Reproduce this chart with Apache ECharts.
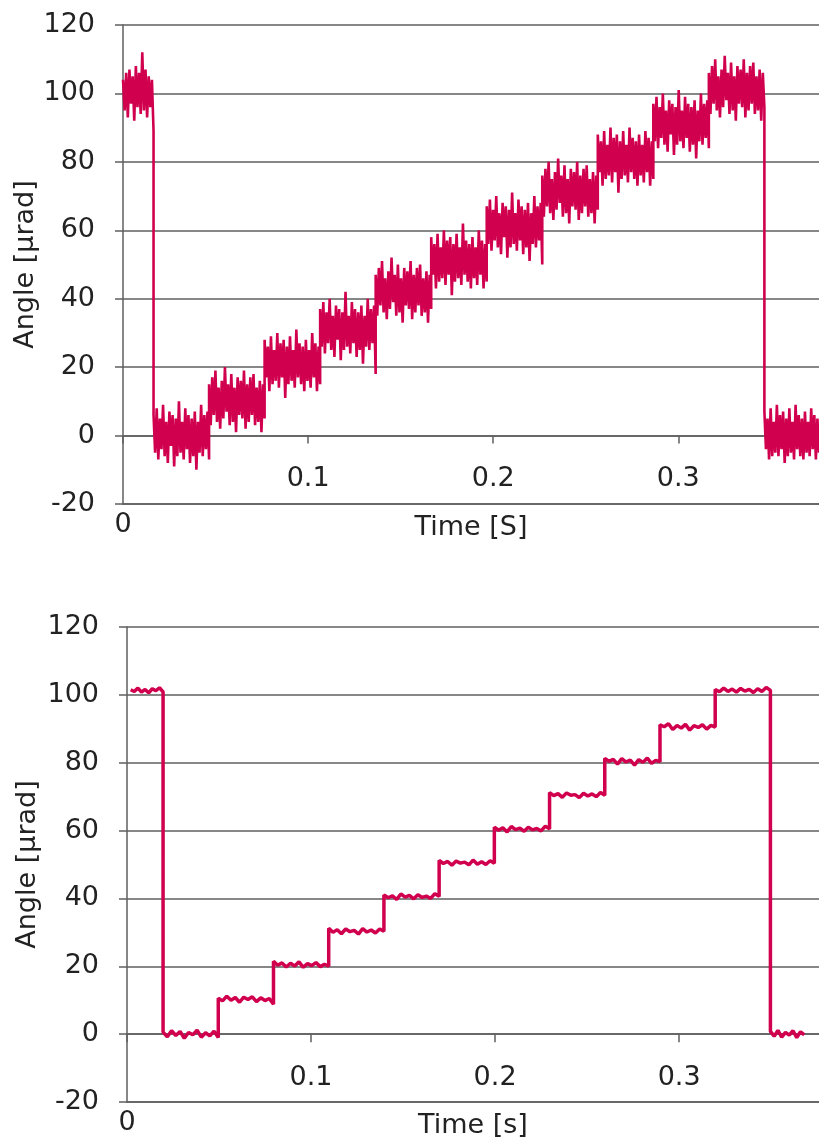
<!DOCTYPE html>
<html lang="en">
<head>
    <meta charset="UTF-8">
    <title>Angle steps</title>
    <script src="https://cdn.jsdelivr.net/npm/echarts@6/dist/echarts.min.js"></script>
    <style>
        html, body { margin: 0; padding: 0; background: #fff; }
    </style>
</head>
<body>
    <div id="main" style="width: 819px;height:1142px;"></div>
    <script>
        var chartDom = document.getElementById('main');
        var myChart = echarts.init(chartDom);

        // y axis ticks (both panels)
        const yTicks = [-20, 0, 20, 40, 60, 80, 100, 120];
        const xTickLabels = ['0', '0.1', '0.2', '0.3'];

        // upper panel: segment boundaries [s] and readings [µrad] in each segment
        const topBounds = [0, 0.0165, 0.0465, 0.0765, 0.1065, 0.1365, 0.1665, 0.1965, 0.2265, 0.2565, 0.2865, 0.3165, 0.3465, 0.376];
        const topSegments = [
            [104, 95, 106, 93, 107, 97, 105, 92, 108, 96, 106, 94, 112, 95, 107, 93, 105, 96, 104, 89],
            [6, -5, 8, -7, 5, -4, 9, -6, 4, -8, 7, -3, 6, -9, 5, -6, 10, -5, 4, -7, 8, -4, 6, -8, 5, -6, 7, -10, 4, -5, 9, -6, 6, -4, 7, -7],
            [15, 3, 17, 6, 19, 4, 14, 2, 16, 5, 20, 7, 15, 3, 18, 4, 14, 1, 17, 6, 16, 5, 19, 2, 15, 4, 17, 6, 18, 3, 14, 4, 16, 1, 15, 5],
            [28, 17, 26, 13, 29, 15, 25, 16, 30, 14, 27, 17, 28, 11, 26, 15, 29, 16, 25, 14, 31, 17, 27, 15, 26, 13, 28, 16, 25, 14, 30, 17, 27, 13, 26, 15],
            [37, 26, 39, 24, 36, 27, 40, 25, 35, 23, 38, 28, 37, 22, 36, 25, 42, 26, 35, 24, 39, 27, 37, 23, 36, 25, 38, 21, 35, 26, 40, 25, 37, 27, 38, 18],
            [47, 35, 49, 38, 51, 36, 46, 34, 48, 37, 52, 39, 47, 35, 50, 36, 46, 33, 49, 38, 48, 37, 51, 34, 47, 36, 49, 38, 50, 35, 46, 36, 48, 33, 47, 37],
            [58, 47, 56, 43, 59, 45, 55, 46, 60, 44, 57, 47, 58, 41, 56, 45, 59, 46, 55, 44, 62, 47, 57, 45, 56, 43, 58, 46, 55, 44, 60, 47, 57, 43, 56, 45],
            [67, 56, 69, 54, 66, 57, 70, 55, 65, 53, 68, 58, 67, 52, 66, 55, 71, 56, 65, 54, 69, 57, 67, 53, 66, 55, 68, 51, 65, 56, 70, 55, 67, 57, 68, 50],
            [76, 64, 78, 67, 80, 65, 75, 63, 77, 66, 81, 68, 76, 64, 79, 65, 75, 62, 78, 67, 77, 66, 80, 63, 76, 65, 78, 67, 79, 64, 75, 65, 77, 62, 76, 66],
            [88, 77, 86, 73, 89, 75, 85, 76, 90, 74, 87, 77, 88, 71, 86, 75, 89, 76, 85, 74, 90, 77, 87, 75, 86, 73, 88, 76, 85, 74, 89, 77, 87, 73, 86, 75],
            [97, 86, 99, 84, 96, 87, 100, 85, 95, 83, 98, 88, 97, 82, 96, 85, 101, 86, 95, 84, 99, 87, 97, 83, 96, 85, 98, 81, 95, 86, 100, 85, 97, 87, 98, 84],
            [106, 94, 108, 97, 110, 95, 105, 93, 107, 96, 111, 98, 106, 94, 109, 95, 105, 92, 108, 97, 107, 96, 110, 93, 106, 95, 108, 97, 109, 94, 105, 95, 107, 92, 106, 96],
            [7, -4, 5, -7, 8, -6, 4, -5, 9, -6, 6, -4, 7, -8, 5, -6, 8, -5, 4, -7, 9, -4, 6, -6, 5, -7, 7, -5, 4, -6, 8, -4, 6, -7, 5, -5]
        ];

        // lower panel
        const botBounds = [0.002, 0.0196, 0.0496, 0.0796, 0.1096, 0.1396, 0.1696, 0.1996, 0.2296, 0.2596, 0.2896, 0.3196, 0.3496, 0.368];
        const botSegments = [
            [101.5, 101.0, 102.0, 100.8, 101.6, 100.6, 101.8, 101.2, 102.1, 100.9],
            [0.6, -0.8, 1.0, -0.4, 0.8, -1.2, 0.5, -0.2, 1.2, -0.9, 0.4, -0.5, 0.9, -1.0],
            [10.6, 9.8, 11.2, 10.0, 10.8, 9.4, 10.9, 10.2, 11.0, 9.6, 10.7, 9.9, 10.5, 8.8],
            [21.5, 20.3, 21.0, 19.8, 20.9, 20.1, 21.3, 19.7, 20.8, 20.2, 21.1, 19.9, 20.6, 20.0],
            [31.2, 30.0, 30.8, 29.6, 31.0, 30.2, 30.6, 29.5, 31.1, 30.1, 30.7, 29.8, 31.0, 30.3],
            [41.0, 40.2, 40.8, 39.7, 41.3, 40.4, 40.9, 39.9, 41.1, 40.3, 40.7, 40.0, 41.4, 40.6],
            [51.2, 50.3, 50.9, 49.8, 51.0, 50.4, 50.7, 49.9, 51.3, 50.1, 50.8, 50.0, 51.1, 50.4],
            [61.0, 60.1, 60.8, 59.6, 61.2, 60.3, 60.7, 59.8, 61.0, 60.2, 60.6, 59.9, 61.3, 60.5],
            [71.2, 70.3, 70.9, 69.8, 71.1, 70.4, 70.6, 69.7, 71.0, 70.2, 70.8, 70.0, 71.2, 70.4],
            [81.3, 80.4, 81.0, 79.6, 81.2, 80.2, 80.8, 79.3, 80.9, 80.1, 81.4, 79.8, 80.7, 80.3],
            [91.2, 90.6, 91.5, 89.8, 91.0, 90.2, 91.3, 89.6, 90.9, 90.4, 91.2, 89.9, 91.0, 90.5],
            [101.6, 100.9, 102.0, 101.0, 101.7, 100.8, 101.9, 101.1, 101.6, 100.7, 101.8, 101.0, 102.2, 101.3],
            [0.8, -0.6, 1.1, -0.9, 0.5, -0.3, 1.0, -1.0, 0.7, -0.2]
        ];

        const xMax = 0.376;
        const lineColor = '#d0004e';
        const gridColor = '#5f5f5f';
        const font = 'DejaVu Sans';
        const fontSize = 27;
        const grids = [
            { left: 123, right: 0, top: 25, height: 479 },
            { left: 127, right: 0, top: 627, height: 475 }
        ];

        // spread the readings of each segment evenly over its time span
        function buildPoints(bounds, segments) {
            const pts = [];
            segments.forEach(function (seg, k) {
                const t0 = bounds[k], t1 = bounds[k + 1];
                seg.forEach(function (v, i) {
                    pts.push([t0 + (t1 - t0) * i / (seg.length - 1), v]);
                });
            });
            return pts;
        }

        // bottom frame line with the "0" and the axis title
        function bottomAxis(gridIndex, name) {
            return {
                gridIndex: gridIndex,
                type: 'value',
                position: 'bottom',
                min: 0, max: xMax, interval: 0.1,
                axisLine: { onZero: false, lineStyle: { color: gridColor, width: 1.5 } },
                axisTick: { show: false },
                splitLine: { show: false },
                axisLabel: {
                    margin: 7, color: '#222', fontFamily: font, fontSize: fontSize,
                    formatter: function (v) { return v === 0 ? xTickLabels[0] : ''; }
                },
                name: name,
                nameLocation: 'middle',
                nameGap: 10,
                nameMoveOverlap: false,
                nameTextStyle: { color: '#222', fontFamily: font, fontSize: fontSize }
            };
        }

        // time axis drawn along the zero line (shifted down from the top edge)
        function zeroAxis(gridIndex) {
            const yMin = yTicks[0], yMax = yTicks[yTicks.length - 1];
            return {
                gridIndex: gridIndex,
                type: 'value',
                position: 'top',
                offset: -grids[gridIndex].height * yMax / (yMax - yMin),
                min: 0, max: xMax, interval: 0.1,
                axisLine: { onZero: false, lineStyle: { color: gridColor, width: 1.5 } },
                axisTick: { show: true, inside: true, length: 8, lineStyle: { color: gridColor, width: 1.5 } },
                splitLine: { show: false },
                axisLabel: {
                    inside: true, margin: 30, color: '#222', fontFamily: font, fontSize: fontSize,
                    showMaxLabel: false,
                    formatter: function (v) {
                        const i = Math.round(v * 10);
                        return (i > 0 && Math.abs(v - i / 10) < 1e-6) ? xTickLabels[i] : '';
                    }
                }
            };
        }

        function angleAxis(gridIndex, gap) {
            return {
                gridIndex: gridIndex,
                type: 'value',
                min: yTicks[0], max: yTicks[yTicks.length - 1], interval: 20,
                axisLine: { show: true, onZero: false, lineStyle: { color: gridColor, width: 1.5 } },
                axisTick: { show: true, length: 8, lineStyle: { color: gridColor, width: 1.5 } },
                splitLine: { show: true, lineStyle: { color: gridColor, width: 1.5 } },
                axisLabel: { margin: 28, color: '#222', fontFamily: font, fontSize: fontSize },
                name: 'Angle [µrad]',
                nameLocation: 'middle',
                nameRotate: 90,
                nameGap: gap,
                nameMoveOverlap: false,
                nameTextStyle: { color: '#222', fontFamily: font, fontSize: fontSize }
            };
        }

        var option = {
            animation: false,
            backgroundColor: '#fff',
            grid: grids.map(function (g) {
                return Object.assign({ outerBoundsMode: 'none', containLabel: false }, g);
            }),
            xAxis: [bottomAxis(0, 'Time [S]'), zeroAxis(0), bottomAxis(1, 'Time [s]'), zeroAxis(1)],
            yAxis: [angleAxis(0, 84), angleAxis(1, 86)],
            series: [
                {
                    type: 'line', xAxisIndex: 0, yAxisIndex: 0,
                    showSymbol: false,
                    lineStyle: { color: lineColor, width: 2.6 },
                    data: buildPoints(topBounds, topSegments)
                },
                {
                    type: 'line', xAxisIndex: 2, yAxisIndex: 1,
                    showSymbol: false,
                    lineStyle: { color: lineColor, width: 3.5 },
                    data: buildPoints(botBounds, botSegments)
                }
            ]
        };

        myChart.setOption(option);
    </script>
</body>
</html>
